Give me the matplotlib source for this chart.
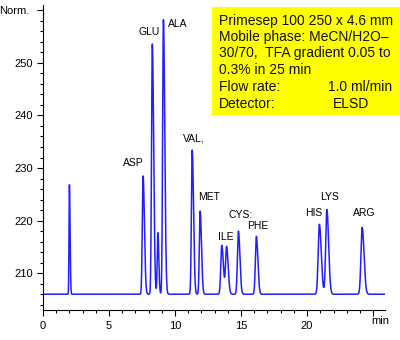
import numpy as np
import matplotlib
matplotlib.use("Agg")
import matplotlib.pyplot as plt
from matplotlib.patches import Rectangle
from matplotlib.ticker import MultipleLocator

plt.rcParams['font.family'] = ['Liberation Sans', 'DejaVu Sans']

# peak table: retention time (min), apex level, tailing widths (min)
peak_times = [2.0, 7.58, 8.28, 8.70, 9.12, 11.30, 11.90, 13.54, 13.90, 14.80, 16.16, 20.93, 21.50, 24.17]
peak_tops = [226.8, 228.5, 253.6, 217.7, 258.2, 233.4, 221.8, 215.3, 215.0, 218.0, 217.0, 219.3, 222.1, 218.7]
sigma_left = [0.03, 0.06, 0.06, 0.05, 0.06, 0.06, 0.06, 0.075, 0.075, 0.075, 0.075, 0.09, 0.09, 0.09]
sigma_right = [0.05, 0.10, 0.10, 0.07, 0.10, 0.10, 0.10, 0.12, 0.12, 0.11, 0.11, 0.14, 0.13, 0.14]
baseline = 206.0

# peak labels and where they sit
label_names = ["ASP", "GLU", "ALA", "VAL,", "MET", "ILE", "CYS:", "PHE", "HIS", "LYS", "ARG"]
label_x = [6.86, 8.03, 10.23, 11.40, 12.60, 13.86, 15.00, 16.29, 20.49, 21.70, 24.36]
label_y = [231.0, 255.9, 257.4, 235.7, 224.5, 216.9, 221.0, 219.0, 221.4, 224.5, 221.4]

info_lines = ["Primesep 100 250 x 4.6 mm",
              "Mobile phase: MeCN/H2O\u2013",
              "30/70,  TFA gradient 0.05 to",
              "0.3% in 25 min",
              "Flow rate:",
              "Detector:"]
info_values = {4: "1.0 ml/min", 5: "ELSD"}

t = np.linspace(0, 25.9, 4000)
signal = np.full_like(t, baseline)
for t0, top, sl, sr in zip(peak_times, peak_tops, sigma_left, sigma_right):
    s = np.where(t < t0, sl, sr)
    signal += (top - baseline) * np.exp(-0.5 * ((t - t0) / s) ** 2)

fig = plt.figure(figsize=(4.0, 3.4), dpi=100)
ax = fig.add_axes([43 / 400, 30 / 340, 342 / 400, 305 / 340])
ax.plot(t, signal, color='#1f1fff', lw=1.1)

ax.set_xlim(0, 25.9)
ax.set_ylim(203, 261)
ax.set_xticks([0, 5, 10, 15, 20, 25])
ax.set_xticklabels(["0", "5", "10", "15", "20", ""])
ax.xaxis.set_minor_locator(MultipleLocator(1))
ax.set_yticks([210, 220, 230, 240, 250, 260])
ax.set_yticklabels(["210", "220", "230", "240", "250", ""])
ax.yaxis.set_minor_locator(MultipleLocator(2))
ax.tick_params(which='major', length=4, width=0.8, labelsize=8, color='black')
ax.tick_params(which='minor', length=2, width=0.8, color='black')
ax.tick_params(axis='x', pad=4)
ax.tick_params(axis='y', pad=3)
for side in ['top', 'right']:
    ax.spines[side].set_visible(False)
for side in ['left', 'bottom']:
    ax.spines[side].set_linewidth(0.8)

for name, x, y in zip(label_names, label_x, label_y):
    ax.text(x, y, name, ha='center', va='center', fontsize=7.5)

fig.text(29 / 400, 1 - 11 / 340, "Norm.", ha='right', va='center', fontsize=8)
fig.text(380 / 400, 1 - 321 / 340, "min", ha='center', va='center', fontsize=8)

# yellow info box
fig.patches.append(Rectangle((212 / 400, 1 - 115 / 340), 188 / 400, 108 / 340,
                             transform=fig.transFigure, facecolor='#ffff00',
                             edgecolor='none', zorder=5))
line_y = [21, 37, 53, 70, 87, 104]
for i, line in enumerate(info_lines):
    fig.text(219 / 400, 1 - line_y[i] / 340, line, ha='left', va='center',
             fontsize=10, color='#111111', zorder=6)
fig.text(328 / 400, 1 - line_y[4] / 340, info_values[4], ha='left', va='center',
         fontsize=10, color='#111111', zorder=6)
fig.text(333 / 400, 1 - line_y[5] / 340, info_values[5], ha='left', va='center',
         fontsize=10, color='#111111', zorder=6)

fig.savefig("out.png", dpi=100)
